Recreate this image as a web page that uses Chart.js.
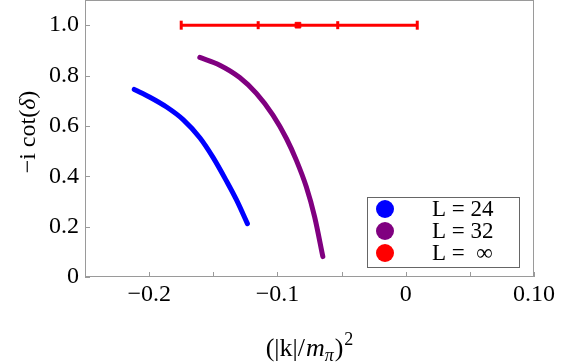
<!DOCTYPE html>
<html><head><meta charset="utf-8">
<script src="https://cdn.jsdelivr.net/npm/chart.js@4/dist/chart.umd.min.js"></script>
<style>html,body{margin:0;padding:0;background:#fff;}canvas{display:block;}</style>
</head><body>
<canvas id="c" width="581" height="363"></canvas>
<script>
// ---- data ----
const blueX   = [-0.2116, -0.1994, -0.1864, -0.1735, -0.1605, -0.1502, -0.1397, -0.1320, -0.1234];
const blueY   = [ 0.745,   0.714,   0.675,   0.625,   0.553,   0.475,   0.381,   0.307,   0.212];
const purpleX = [-0.1605, -0.1449, -0.1294, -0.1164, -0.1035, -0.0930, -0.0853, -0.0775, -0.0710, -0.0646];
const purpleY = [ 0.872,   0.841,   0.792,   0.729,   0.643,   0.550,   0.464,   0.358,   0.239,   0.081];
const errCenterX = -0.084;
const errCenterY = 1.0;
const errStat = 0.031;
const errTotLow = 0.091;
const errTotHigh = 0.093;
const xTickValues = [-0.2, -0.1, 0, 0.1];
const xTickLabels = ['\u22120.2', '\u22120.1', '0', '0.10'];
const xMinorTicks = [-0.15, -0.05, 0.05];
const yTickValues = [0, 0.2, 0.4, 0.6, 0.8, 1.0];
const yTickLabels = ['0', '0.2', '0.4', '0.6', '0.8', '1.0'];
const seriesLabels = ['L = 24', 'L = 32', 'L =  \u221E'];
const seriesColors = ['#0000ff', '#800080', '#ff0000'];
const yTitleParts = [['\u2212i cot(', false], ['\u03B4', true], [')', false]];
const xTitleParts = ['(|k|/', 'm', '\u03C0', ')', '2'];

const FONT = '"Liberation Serif", "Times New Roman", serif';
const FRAME = '#9a9a9a';

const toPts = (xs, ys) => xs.map((x, i) => ({x: x, y: ys[i]}));
const errPts = [
  {x: errCenterX - errTotLow, y: errCenterY},
  {x: errCenterX - errStat, y: errCenterY},
  {x: errCenterX, y: errCenterY},
  {x: errCenterX + errStat, y: errCenterY},
  {x: errCenterX + errTotHigh, y: errCenterY}
];

const decorPlugin = {
  id: 'decor',
  beforeDatasetsDraw(chart) {
    const {ctx, chartArea: a, scales} = chart;
    ctx.save();
    ctx.strokeStyle = FRAME;
    ctx.lineWidth = 1;
    ctx.strokeRect(Math.round(a.left) + 0.5, Math.round(a.top) + 0.5,
                   Math.round(a.right - a.left) - 1, Math.round(a.bottom - a.top) - 1);
    ctx.beginPath();
    xTickValues.concat(xMinorTicks).forEach(v => {
      const px = Math.round(scales.x.getPixelForValue(v)) + 0.5;
      ctx.moveTo(px, a.bottom); ctx.lineTo(px, a.bottom - 5);
    });
    yTickValues.forEach(v => {
      const py = Math.round(scales.y.getPixelForValue(v)) + 0.5;
      ctx.moveTo(a.left, py); ctx.lineTo(a.left + 5, py);
    });
    ctx.stroke();
    ctx.restore();
  },
  afterDraw(chart) {
    const {ctx, chartArea: a} = chart;
    ctx.save();
    // legend box
    const bx = 367, by = 197, bw = 152, bh = 70;
    ctx.fillStyle = '#fff';
    ctx.fillRect(bx, by, bw, bh);
    ctx.strokeStyle = '#666';
    ctx.lineWidth = 1;
    ctx.strokeRect(bx + 0.5, by + 0.5, bw, bh);
    ctx.font = '23px ' + FONT;
    ctx.textBaseline = 'middle';
    ctx.textAlign = 'left';
    seriesLabels.forEach((lab, i) => {
      const cy = 209 + i * 22;
      ctx.fillStyle = seriesColors[i];
      ctx.beginPath(); ctx.arc(385, cy, 9, 0, Math.PI * 2); ctx.fill();
      ctx.fillStyle = '#000';
      ctx.fillText(lab, 432, cy + 1);
    });
    // y title (rotated)
    ctx.save();
    ctx.translate(35, 132);
    ctx.rotate(-Math.PI / 2);
    ctx.textBaseline = 'alphabetic';
    let total = 0;
    yTitleParts.forEach(p => { ctx.font = (p[1] ? 'italic ' : '') + '24px ' + FONT; total += ctx.measureText(p[0]).width; });
    let x = -total / 2;
    ctx.fillStyle = '#000';
    yTitleParts.forEach(p => { ctx.font = (p[1] ? 'italic ' : '') + '24px ' + FONT; ctx.fillText(p[0], x, 0); x += ctx.measureText(p[0]).width; });
    ctx.restore();
    // x title
    const parts = [
      {t: xTitleParts[0], f: '26px ' + FONT, dy: 0, gap: 1},
      {t: xTitleParts[1], f: 'italic 26px ' + FONT, dy: 0, gap: 0},
      {t: xTitleParts[2], f: 'italic 18px ' + FONT, dy: 5, gap: 1},
      {t: xTitleParts[3], f: '26px ' + FONT, dy: 0, gap: 1},
      {t: xTitleParts[4], f: '18px ' + FONT, dy: -11, gap: 0}
    ];
    let w = 0;
    parts.forEach(p => { ctx.font = p.f; p.w = ctx.measureText(p.t).width + p.gap; w += p.w; });
    let xx = (a.left + a.right) / 2 - w / 2;
    ctx.textBaseline = 'alphabetic';
    ctx.fillStyle = '#000';
    parts.forEach(p => { ctx.font = p.f; ctx.fillText(p.t, xx, 356 + p.dy); xx += p.w; });
    ctx.restore();
  }
};

new Chart(document.getElementById('c'), {
  type: 'scatter',
  data: {
    datasets: [
      {label: seriesLabels[0], data: toPts(blueX, blueY), showLine: true, borderColor: seriesColors[0],
       borderWidth: 5, pointRadius: 0, cubicInterpolationMode: 'monotone', borderCapStyle: 'round', borderJoinStyle: 'round'},
      {label: seriesLabels[1], data: toPts(purpleX, purpleY), showLine: true, borderColor: seriesColors[1],
       borderWidth: 5, pointRadius: 0, cubicInterpolationMode: 'monotone', borderCapStyle: 'round', borderJoinStyle: 'round'},
      {label: seriesLabels[2], data: errPts, showLine: true, borderColor: seriesColors[2], backgroundColor: seriesColors[2],
       borderWidth: 3, tension: 0,
       pointStyle: ['line', 'line', 'rect', 'line', 'line'],
       rotation: [90, 90, 0, 90, 90],
       pointRadius: [4.5, 4, 4, 4, 4.5],
       pointBorderWidth: [3, 3, 1, 3, 3],
       pointBorderColor: seriesColors[2], pointBackgroundColor: seriesColors[2]}
    ]
  },
  options: {
    responsive: false,
    animation: false,
    devicePixelRatio: 1,
    layout: {autoPadding: false, padding: {left: 0, top: 0, right: 47, bottom: 0}},
    plugins: {legend: {display: false}, tooltip: {enabled: false}},
    scales: {
      x: {
        type: 'linear', min: -0.25, max: 0.1,
        afterBuildTicks: s => { s.ticks = xTickValues.map(v => ({value: v})); },
        afterFit: s => { s.height = 86; s.paddingLeft = 0; s.paddingRight = 0; },
        grid: {display: false, drawTicks: false},
        border: {display: false},
        ticks: {padding: 3, color: '#000', font: {family: FONT, size: 24},
                maxRotation: 0, autoSkip: false,
                callback: (v, i) => xTickLabels[i]}
      },
      y: {
        type: 'linear', min: 0, max: 1.1,
        afterBuildTicks: s => { s.ticks = yTickValues.map(v => ({value: v})); },
        afterFit: s => { s.width = 85; s.paddingTop = 0; s.paddingBottom = 0; },
        grid: {display: false, drawTicks: false},
        border: {display: false},
        ticks: {padding: 6, color: '#000', font: {family: FONT, size: 24},
                autoSkip: false,
                callback: (v, i) => yTickLabels[i]}
      }
    }
  },
  plugins: [decorPlugin]
});
</script>
</body></html>
